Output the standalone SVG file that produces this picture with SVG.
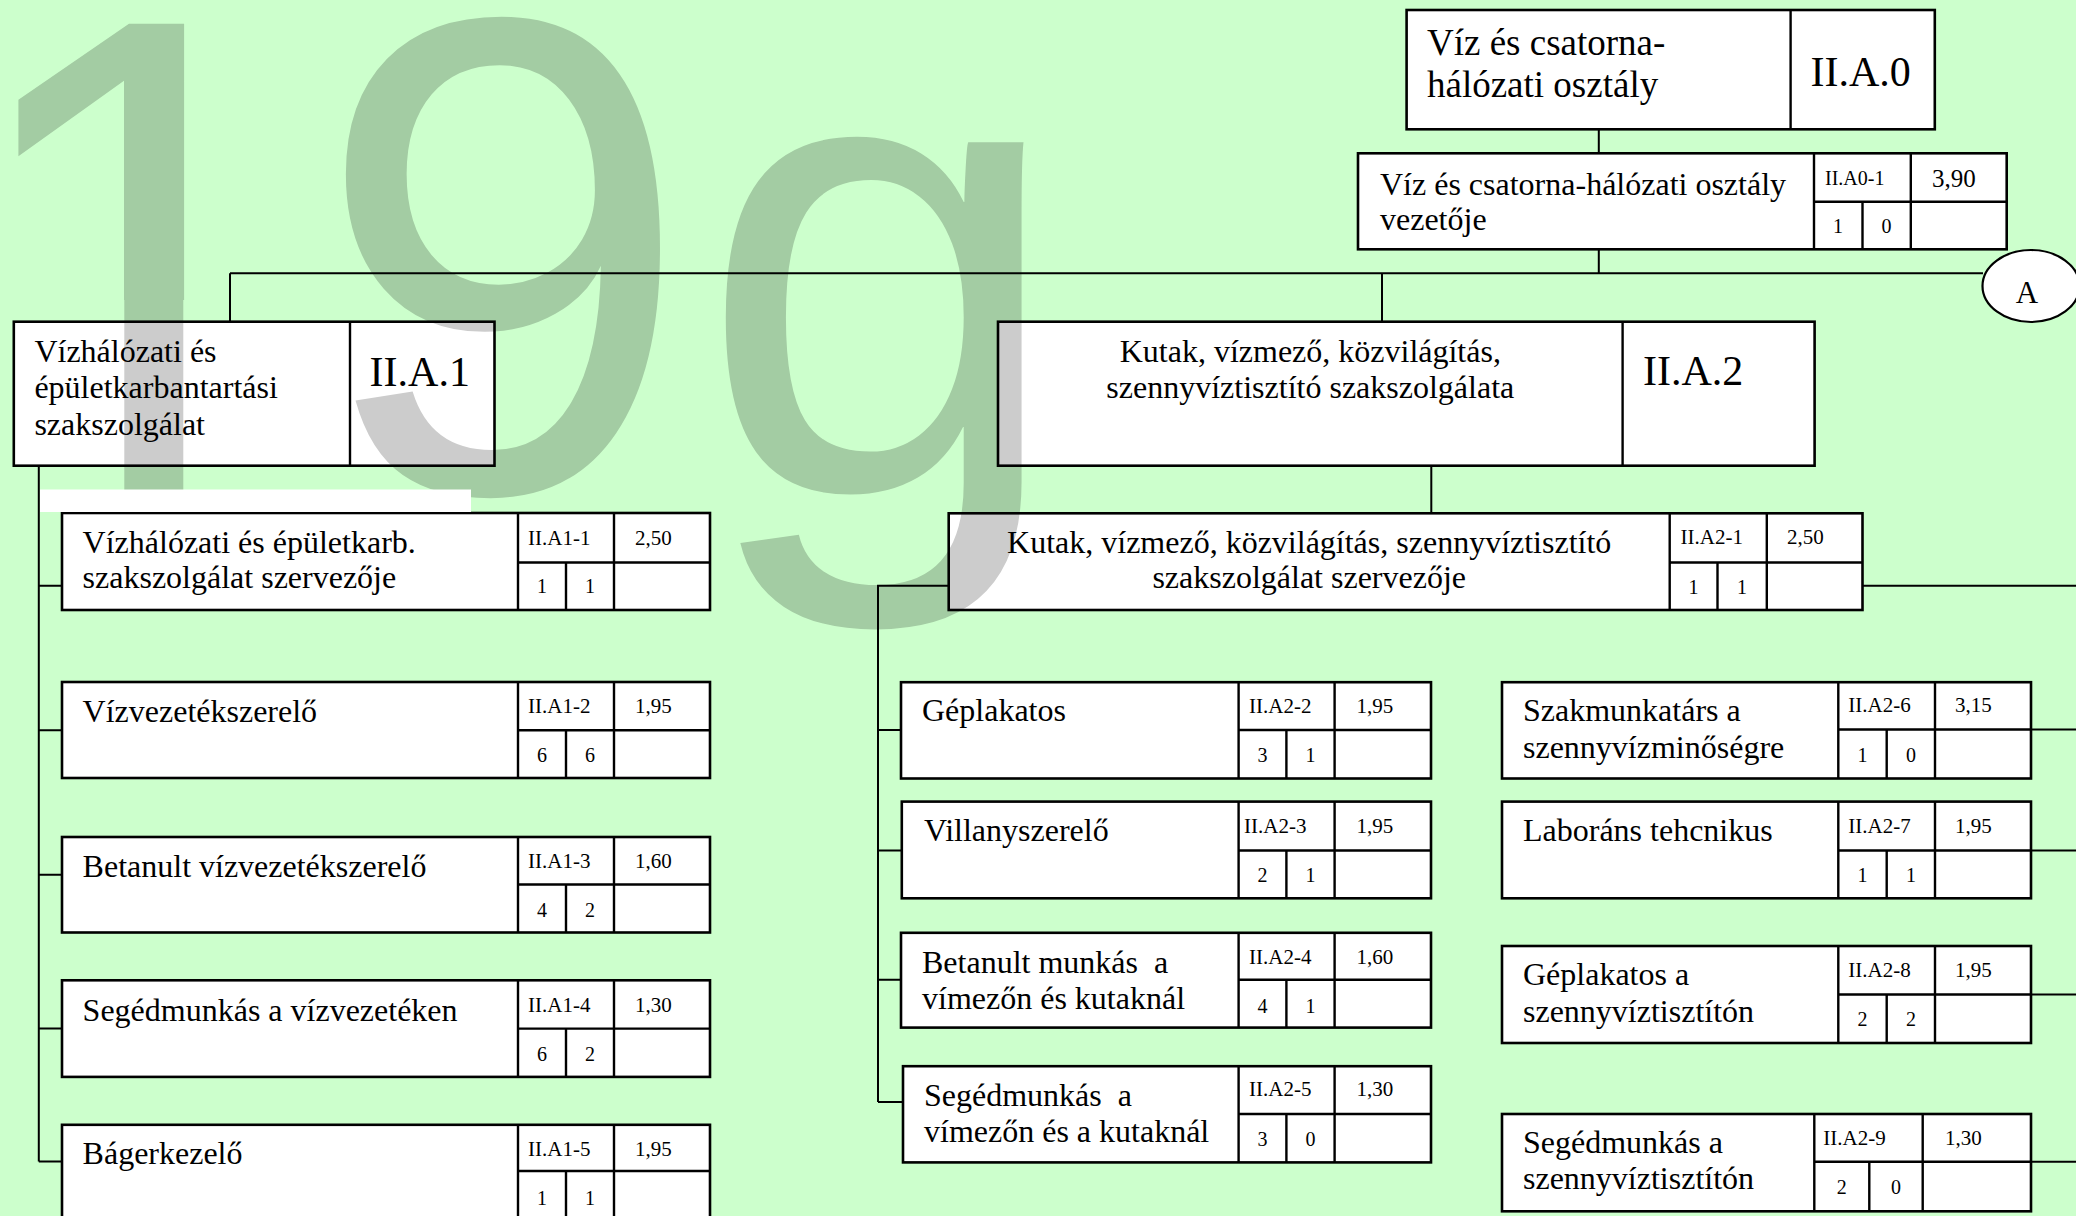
<svg xmlns="http://www.w3.org/2000/svg" width="2076" height="1216" viewBox="0 0 2076 1216">
<style>
.bx{fill:#fff;stroke:#000;stroke-width:2.6}
.gl{stroke:#000;stroke-width:2.4;fill:none}
.ln{stroke:#000;stroke-width:2;fill:none}
text{font-family:"Liberation Serif","Times New Roman",serif;fill:#000}
.t{font-size:32px}
.tm{font-size:32px;text-anchor:middle}
.big{font-size:37px}
.id{font-size:42px}
.c{font-size:21px}
.n{font-size:20px;text-anchor:middle}
.wm{font-family:"Liberation Sans",Arial,sans-serif;fill:#ccc}
</style>
<defs>
<clipPath id="wmclip"><rect x="0" y="0" width="2076" height="631"/></clipPath>
<clipPath id="oneclip"><rect x="0" y="0" width="300" height="300"/><rect x="124.3" y="0" width="59" height="500"/></clipPath>
</defs>
<rect x="0" y="0" width="2076" height="1216" fill="#ccffcc"/>

<g id="connectors">
<path class="ln" d="M1598.8 129.3V153.3M1598.8 249.3V273.3M230 273.3H1983M230 273.3V321.7M1382 273.3V321.7M1431.3 465.7V513.3"/>
<path class="ln" d="M38.8 465.7V1161.6M38.8 585.7H62M38.8 730.2H62M38.8 874.7H62M38.8 1028.6H62M38.8 1161.6H62"/>
<path class="ln" d="M948.7 585.7H878V1102M878 730H901M878 850.5H901M878 979.8H901M878 1102H903"/>
<path class="ln" d="M1862.5 585.7H2076M2031 729.5H2076M2031 850.5H2076M2031 994.5H2076M2031 1161.7H2076"/>
</g>

<g id="n-IIA0">
<rect class="bx" x="1406.6" y="10" width="528.2" height="119.3"/>
<path class="gl" d="M1790.6 10V129.3"/>
<text class="big" x="1427" y="55">Víz és csatorna-</text>
<text class="big" x="1427" y="96.7">hálózati osztály</text>
<text class="id" x="1810.5" y="86">II.A.0</text>
</g>

<g id="n-IIA0-1">
<rect class="bx" x="1358" y="153.3" width="648.7" height="96"/>
<path class="gl" d="M1814 153.3V249.3M1910.8 153.3V249.3M1814 201.7H2006.7M1862.5 201.7V249.3"/>
<text class="t" x="1380" y="195">Víz és csatorna-hálózati osztály</text>
<text class="t" x="1380" y="230">vezetője</text>
<text class="c" x="1825" y="185" style="font-size:20px">II.A0-1</text>
<text x="1932" y="187" style="font-size:25px">3,90</text>
<text class="n" x="1838" y="233">1</text>
<text class="n" x="1886.5" y="233">0</text>
</g>

<g id="n-A">
<ellipse class="bx" cx="2031" cy="286" rx="48.5" ry="36" style="stroke-width:2.2"/>
<text x="2027" y="303.3" style="font-size:31px;text-anchor:middle">A</text>
</g>

<g id="n-IIA1">
<rect class="bx" x="13.8" y="321.7" width="480.7" height="144"/>
<path class="gl" d="M350 321.7V465.7"/>
<text class="t" x="34.4" y="361.7">Vízhálózati és</text>
<text class="t" x="34.4" y="398">épületkarbantartási</text>
<text class="t" x="34.4" y="435">szakszolgálat</text>
<text class="id" x="369.6" y="385.5">II.A.1</text>
</g>

<g id="n-IIA2">
<rect class="bx" x="998" y="321.7" width="816.6" height="144"/>
<path class="gl" d="M1622.6 321.7V465.7"/>
<text class="tm" x="1310.3" y="361.7">Kutak, vízmező, közvilágítás,</text>
<text class="tm" x="1310.3" y="398">szennyvíztisztító szakszolgálata</text>
<text class="id" x="1643" y="385">II.A.2</text>
</g>

<g id="n-IIA1-1">
<rect class="bx" x="62" y="513" width="648" height="97"/>
<path class="gl" d="M518 513V610M614 513V610M518 562.5H710M566 562.5V610"/>
<text class="t" x="82.6" y="553">Vízhálózati és épületkarb.</text>
<text class="t" x="82.6" y="588">szakszolgálat szervezője</text>
<text class="c" x="528" y="545">II.A1-1</text>
<text class="c" x="635" y="545">2,50</text>
<text class="n" x="542" y="593">1</text>
<text class="n" x="590" y="593">1</text>
</g>

<g id="n-IIA1-2">
<rect class="bx" x="62" y="682" width="648" height="96"/>
<path class="gl" d="M518 682V778M614 682V778M518 730.2H710M566 730.2V778"/>
<text class="t" x="82.6" y="722">Vízvezetékszerelő</text>
<text class="c" x="528" y="713">II.A1-2</text>
<text class="c" x="635" y="713">1,95</text>
<text class="n" x="542" y="762">6</text>
<text class="n" x="590" y="762">6</text>
</g>

<g id="n-IIA1-3">
<rect class="bx" x="62" y="837" width="648" height="95.5"/>
<path class="gl" d="M518 837V932.5M614 837V932.5M518 884.5H710M566 884.5V932.5"/>
<text class="t" x="82.6" y="876.6">Betanult vízvezetékszerelő</text>
<text class="c" x="528" y="868">II.A1-3</text>
<text class="c" x="635" y="868">1,60</text>
<text class="n" x="542" y="917">4</text>
<text class="n" x="590" y="917">2</text>
</g>

<g id="n-IIA1-4">
<rect class="bx" x="62" y="980.3" width="648" height="96.6"/>
<path class="gl" d="M518 980.3V1076.9M614 980.3V1076.9M518 1028.6H710M566 1028.6V1076.9"/>
<text class="t" x="82.6" y="1021">Segédmunkás a vízvezetéken</text>
<text class="c" x="528" y="1012">II.A1-4</text>
<text class="c" x="635" y="1012">1,30</text>
<text class="n" x="542" y="1061">6</text>
<text class="n" x="590" y="1061">2</text>
</g>

<g id="n-IIA1-5">
<rect class="bx" x="62" y="1124.8" width="648" height="96.2"/>
<path class="gl" d="M518 1124.8V1221M614 1124.8V1221M518 1171H710M566 1171V1221"/>
<text class="t" x="82.6" y="1163.5">Bágerkezelő</text>
<text class="c" x="528" y="1156">II.A1-5</text>
<text class="c" x="635" y="1156">1,95</text>
<text class="n" x="542" y="1205">1</text>
<text class="n" x="590" y="1205">1</text>
</g>

<g id="n-IIA2-1">
<rect class="bx" x="948.7" y="513.3" width="913.8" height="96.7"/>
<path class="gl" d="M1669.7 513.3V610M1766.8 513.3V610M1669.7 562.5H1862.5M1717.5 562.5V610"/>
<text class="tm" x="1309.2" y="553">Kutak, vízmező, közvilágítás, szennyvíztisztító</text>
<text class="tm" x="1309.2" y="588">szakszolgálat szervezője</text>
<text class="c" x="1680.6" y="544">II.A2-1</text>
<text class="c" x="1787" y="544">2,50</text>
<text class="n" x="1693.6" y="594">1</text>
<text class="n" x="1742" y="594">1</text>
</g>

<g id="n-IIA2-2">
<rect class="bx" x="901" y="682.2" width="530" height="96.3"/>
<path class="gl" d="M1238.6 682.2V778.5M1334.6 682.2V778.5M1238.6 730H1431M1286.4 730V778.5"/>
<text class="t" x="922" y="721">Géplakatos</text>
<text class="c" x="1249" y="712.5">II.A2-2</text>
<text class="c" x="1356.5" y="712.5">1,95</text>
<text class="n" x="1262.5" y="762">3</text>
<text class="n" x="1310.5" y="762">1</text>
</g>

<g id="n-IIA2-3">
<rect class="bx" x="901.8" y="801.6" width="529.2" height="96.7"/>
<path class="gl" d="M1238.6 801.6V898.3M1334.6 801.6V898.3M1238.6 850.5H1431M1286.4 850.5V898.3"/>
<text class="t" x="924" y="841">Villanyszerelő</text>
<text class="c" x="1244" y="832.5">II.A2-3</text>
<text class="c" x="1356.5" y="832.5">1,95</text>
<text class="n" x="1262.5" y="882">2</text>
<text class="n" x="1310.5" y="882">1</text>
</g>

<g id="n-IIA2-4">
<rect class="bx" x="901" y="932.8" width="530" height="94.8"/>
<path class="gl" d="M1238.6 932.8V1027.6M1334.6 932.8V1027.6M1238.6 979.8H1431M1286.4 979.8V1027.6"/>
<text class="t" x="922" y="972.5" xml:space="preserve">Betanult munkás  a</text>
<text class="t" x="922" y="1008.5">vímezőn és kutaknál</text>
<text class="c" x="1249" y="963.5">II.A2-4</text>
<text class="c" x="1356.5" y="963.5">1,60</text>
<text class="n" x="1262.5" y="1013">4</text>
<text class="n" x="1310.5" y="1013">1</text>
</g>

<g id="n-IIA2-5">
<rect class="bx" x="903" y="1066.2" width="528" height="96.2"/>
<path class="gl" d="M1238.6 1066.2V1162.4M1334.6 1066.2V1162.4M1238.6 1114H1431M1286.4 1114V1162.4"/>
<text class="t" x="924" y="1105.8" xml:space="preserve">Segédmunkás  a</text>
<text class="t" x="924" y="1142">vímezőn és a kutaknál</text>
<text class="c" x="1249" y="1096">II.A2-5</text>
<text class="c" x="1356.5" y="1096">1,30</text>
<text class="n" x="1262.5" y="1146">3</text>
<text class="n" x="1310.5" y="1146">0</text>
</g>

<g id="n-IIA2-6">
<rect class="bx" x="1502" y="682.2" width="529" height="96.3"/>
<path class="gl" d="M1838.3 682.2V778.5M1935 682.2V778.5M1838.3 729.5H2031M1886.7 729.5V778.5"/>
<text class="t" x="1523" y="720.8">Szakmunkatárs a</text>
<text class="t" x="1523" y="757.6">szennyvízminőségre</text>
<text class="c" x="1848.3" y="712.4">II.A2-6</text>
<text class="c" x="1955" y="712.4">3,15</text>
<text class="n" x="1862.5" y="762">1</text>
<text class="n" x="1911" y="762">0</text>
</g>

<g id="n-IIA2-7">
<rect class="bx" x="1502" y="801.6" width="529" height="96.7"/>
<path class="gl" d="M1838.3 801.6V898.3M1935 801.6V898.3M1838.3 850.5H2031M1886.7 850.5V898.3"/>
<text class="t" x="1523" y="841.3">Laboráns tehcnikus</text>
<text class="c" x="1848.3" y="832.5">II.A2-7</text>
<text class="c" x="1955" y="832.5">1,95</text>
<text class="n" x="1862.5" y="882">1</text>
<text class="n" x="1911" y="882">1</text>
</g>

<g id="n-IIA2-8">
<rect class="bx" x="1502" y="946" width="529" height="97"/>
<path class="gl" d="M1838.3 946V1043M1935 946V1043M1838.3 994.5H2031M1886.7 994.5V1043"/>
<text class="t" x="1523" y="985.3">Géplakatos a</text>
<text class="t" x="1523" y="1022">szennyvíztisztítón</text>
<text class="c" x="1848.3" y="977">II.A2-8</text>
<text class="c" x="1955" y="977">1,95</text>
<text class="n" x="1862.5" y="1026">2</text>
<text class="n" x="1911" y="1026">2</text>
</g>

<g id="n-IIA2-9">
<rect class="bx" x="1502" y="1114" width="529" height="97.3"/>
<path class="gl" d="M1814.3 1114V1211.3M1922.7 1114V1211.3M1814.3 1161.7H2031M1869.3 1161.7V1211.3"/>
<text class="t" x="1523" y="1152.5">Segédmunkás a</text>
<text class="t" x="1523" y="1189.2">szennyvíztisztítón</text>
<text class="c" x="1823.3" y="1145">II.A2-9</text>
<text class="c" x="1945" y="1145">1,30</text>
<text class="n" x="1841.8" y="1194">2</text>
<text class="n" x="1896" y="1194">0</text>
</g>

<g id="watermark" clip-path="url(#wmclip)" style="mix-blend-mode:multiply">
<g clip-path="url(#oneclip)"><text class="wm" x="-47" y="491.5" style="font-size:680px">1</text></g>
<text class="wm" x="314" y="491.5" style="font-size:680px">9</text>
<text class="wm" x="698" y="492" style="font-size:662px">g</text>
</g>
<rect x="40" y="489.5" width="431" height="22.5" fill="#fff"/>
</svg>
